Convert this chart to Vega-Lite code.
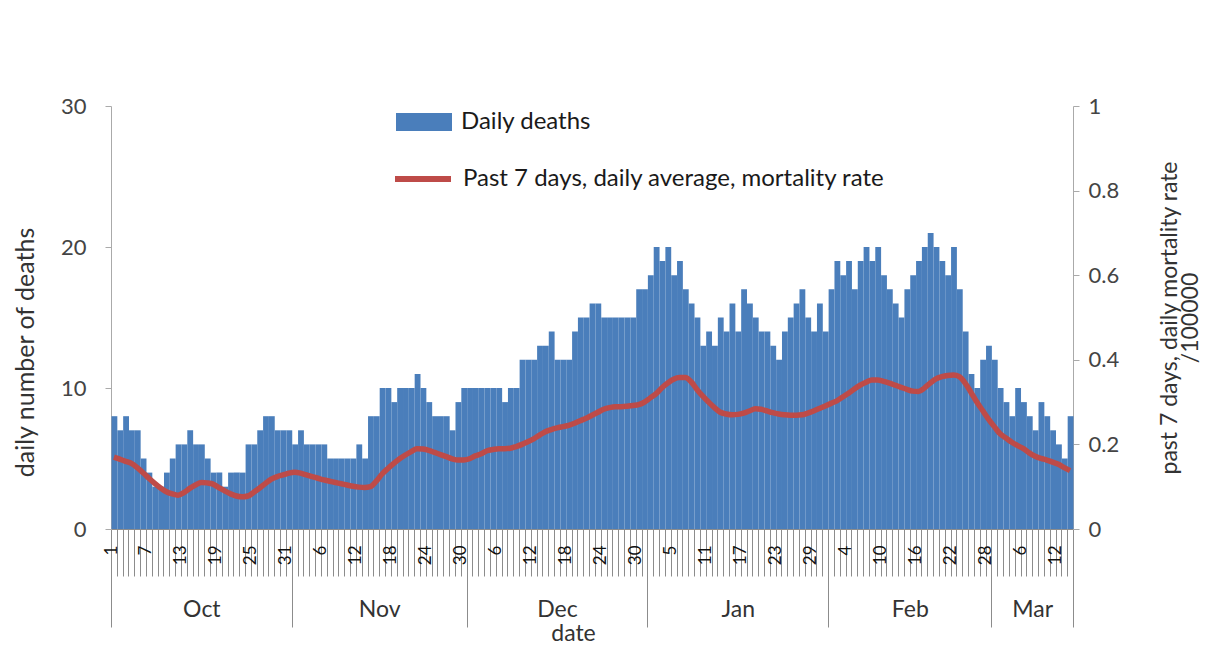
{
  "$schema": "https://vega.github.io/schema/vega-lite/v6.json",
  "width": 962,
  "height": 423,
  "autosize": {"type": "none"},
  "padding": {"left": 111, "top": 106, "right": 133, "bottom": 117},
  "background": "white",
  "config": {"font": "Lato", "view": {"stroke": null}},
  "data": {"values": [
    {"date":"2020-10-01","deaths":8,"rate":0.17},{"date":"2020-10-02","deaths":7,"rate":0.165},{"date":"2020-10-03","deaths":8,"rate":0.16},{"date":"2020-10-04","deaths":7,"rate":0.155},{"date":"2020-10-05","deaths":7,"rate":0.145},{"date":"2020-10-06","deaths":5,"rate":0.133},{"date":"2020-10-07","deaths":4,"rate":0.12},{"date":"2020-10-08","deaths":3,"rate":0.108},{"date":"2020-10-09","deaths":3,"rate":0.097},{"date":"2020-10-10","deaths":4,"rate":0.088},{"date":"2020-10-11","deaths":5,"rate":0.083},{"date":"2020-10-12","deaths":6,"rate":0.08},{"date":"2020-10-13","deaths":6,"rate":0.086},{"date":"2020-10-14","deaths":7,"rate":0.096},{"date":"2020-10-15","deaths":6,"rate":0.104},{"date":"2020-10-16","deaths":6,"rate":0.11},{"date":"2020-10-17","deaths":5,"rate":0.109},{"date":"2020-10-18","deaths":4,"rate":0.106},{"date":"2020-10-19","deaths":4,"rate":0.098},{"date":"2020-10-20","deaths":3,"rate":0.09},{"date":"2020-10-21","deaths":4,"rate":0.083},{"date":"2020-10-22","deaths":4,"rate":0.078},{"date":"2020-10-23","deaths":4,"rate":0.076},{"date":"2020-10-24","deaths":6,"rate":0.078},{"date":"2020-10-25","deaths":6,"rate":0.087},{"date":"2020-10-26","deaths":7,"rate":0.097},{"date":"2020-10-27","deaths":8,"rate":0.108},{"date":"2020-10-28","deaths":8,"rate":0.118},{"date":"2020-10-29","deaths":7,"rate":0.124},{"date":"2020-10-30","deaths":7,"rate":0.128},{"date":"2020-10-31","deaths":7,"rate":0.132},
    {"date":"2020-11-01","deaths":6,"rate":0.134},{"date":"2020-11-02","deaths":7,"rate":0.132},{"date":"2020-11-03","deaths":6,"rate":0.128},{"date":"2020-11-04","deaths":6,"rate":0.124},{"date":"2020-11-05","deaths":6,"rate":0.12},{"date":"2020-11-06","deaths":6,"rate":0.116},{"date":"2020-11-07","deaths":5,"rate":0.113},{"date":"2020-11-08","deaths":5,"rate":0.11},{"date":"2020-11-09","deaths":5,"rate":0.107},{"date":"2020-11-10","deaths":5,"rate":0.104},{"date":"2020-11-11","deaths":5,"rate":0.101},{"date":"2020-11-12","deaths":6,"rate":0.099},{"date":"2020-11-13","deaths":5,"rate":0.098},{"date":"2020-11-14","deaths":8,"rate":0.1},{"date":"2020-11-15","deaths":8,"rate":0.113},{"date":"2020-11-16","deaths":10,"rate":0.13},{"date":"2020-11-17","deaths":10,"rate":0.143},{"date":"2020-11-18","deaths":9,"rate":0.155},{"date":"2020-11-19","deaths":10,"rate":0.166},{"date":"2020-11-20","deaths":10,"rate":0.175},{"date":"2020-11-21","deaths":10,"rate":0.183},{"date":"2020-11-22","deaths":11,"rate":0.19},{"date":"2020-11-23","deaths":10,"rate":0.189},{"date":"2020-11-24","deaths":9,"rate":0.186},{"date":"2020-11-25","deaths":8,"rate":0.181},{"date":"2020-11-26","deaths":8,"rate":0.176},{"date":"2020-11-27","deaths":8,"rate":0.171},{"date":"2020-11-28","deaths":7,"rate":0.166},{"date":"2020-11-29","deaths":9,"rate":0.163},{"date":"2020-11-30","deaths":10,"rate":0.163},
    {"date":"2020-12-01","deaths":10,"rate":0.166},{"date":"2020-12-02","deaths":10,"rate":0.173},{"date":"2020-12-03","deaths":10,"rate":0.178},{"date":"2020-12-04","deaths":10,"rate":0.185},{"date":"2020-12-05","deaths":10,"rate":0.188},{"date":"2020-12-06","deaths":10,"rate":0.19},{"date":"2020-12-07","deaths":9,"rate":0.19},{"date":"2020-12-08","deaths":10,"rate":0.191},{"date":"2020-12-09","deaths":10,"rate":0.195},{"date":"2020-12-10","deaths":12,"rate":0.2},{"date":"2020-12-11","deaths":12,"rate":0.206},{"date":"2020-12-12","deaths":12,"rate":0.213},{"date":"2020-12-13","deaths":13,"rate":0.222},{"date":"2020-12-14","deaths":13,"rate":0.23},{"date":"2020-12-15","deaths":14,"rate":0.235},{"date":"2020-12-16","deaths":12,"rate":0.239},{"date":"2020-12-17","deaths":12,"rate":0.242},{"date":"2020-12-18","deaths":12,"rate":0.245},{"date":"2020-12-19","deaths":14,"rate":0.25},{"date":"2020-12-20","deaths":15,"rate":0.256},{"date":"2020-12-21","deaths":15,"rate":0.262},{"date":"2020-12-22","deaths":16,"rate":0.269},{"date":"2020-12-23","deaths":16,"rate":0.276},{"date":"2020-12-24","deaths":15,"rate":0.283},{"date":"2020-12-25","deaths":15,"rate":0.287},{"date":"2020-12-26","deaths":15,"rate":0.289},{"date":"2020-12-27","deaths":15,"rate":0.289},{"date":"2020-12-28","deaths":15,"rate":0.29},{"date":"2020-12-29","deaths":15,"rate":0.292},{"date":"2020-12-30","deaths":17,"rate":0.294},{"date":"2020-12-31","deaths":17,"rate":0.3},
    {"date":"2021-01-01","deaths":18,"rate":0.31},{"date":"2021-01-02","deaths":20,"rate":0.32},{"date":"2021-01-03","deaths":19,"rate":0.334},{"date":"2021-01-04","deaths":20,"rate":0.345},{"date":"2021-01-05","deaths":18,"rate":0.354},{"date":"2021-01-06","deaths":19,"rate":0.358},{"date":"2021-01-07","deaths":17,"rate":0.358},{"date":"2021-01-08","deaths":16,"rate":0.348},{"date":"2021-01-09","deaths":15,"rate":0.33},{"date":"2021-01-10","deaths":13,"rate":0.314},{"date":"2021-01-11","deaths":14,"rate":0.3},{"date":"2021-01-12","deaths":13,"rate":0.287},{"date":"2021-01-13","deaths":15,"rate":0.276},{"date":"2021-01-14","deaths":14,"rate":0.272},{"date":"2021-01-15","deaths":16,"rate":0.27},{"date":"2021-01-16","deaths":14,"rate":0.271},{"date":"2021-01-17","deaths":17,"rate":0.274},{"date":"2021-01-18","deaths":16,"rate":0.279},{"date":"2021-01-19","deaths":15,"rate":0.284},{"date":"2021-01-20","deaths":14,"rate":0.283},{"date":"2021-01-21","deaths":14,"rate":0.279},{"date":"2021-01-22","deaths":13,"rate":0.275},{"date":"2021-01-23","deaths":12,"rate":0.272},{"date":"2021-01-24","deaths":14,"rate":0.27},{"date":"2021-01-25","deaths":15,"rate":0.269},{"date":"2021-01-26","deaths":16,"rate":0.269},{"date":"2021-01-27","deaths":17,"rate":0.27},{"date":"2021-01-28","deaths":15,"rate":0.274},{"date":"2021-01-29","deaths":14,"rate":0.279},{"date":"2021-01-30","deaths":16,"rate":0.285},{"date":"2021-01-31","deaths":14,"rate":0.291},
    {"date":"2021-02-01","deaths":17,"rate":0.297},{"date":"2021-02-02","deaths":19,"rate":0.303},{"date":"2021-02-03","deaths":18,"rate":0.312},{"date":"2021-02-04","deaths":19,"rate":0.321},{"date":"2021-02-05","deaths":17,"rate":0.331},{"date":"2021-02-06","deaths":19,"rate":0.34},{"date":"2021-02-07","deaths":20,"rate":0.347},{"date":"2021-02-08","deaths":19,"rate":0.352},{"date":"2021-02-09","deaths":20,"rate":0.352},{"date":"2021-02-10","deaths":18,"rate":0.349},{"date":"2021-02-11","deaths":17,"rate":0.345},{"date":"2021-02-12","deaths":16,"rate":0.34},{"date":"2021-02-13","deaths":15,"rate":0.335},{"date":"2021-02-14","deaths":17,"rate":0.33},{"date":"2021-02-15","deaths":18,"rate":0.326},{"date":"2021-02-16","deaths":19,"rate":0.325},{"date":"2021-02-17","deaths":20,"rate":0.333},{"date":"2021-02-18","deaths":21,"rate":0.345},{"date":"2021-02-19","deaths":20,"rate":0.355},{"date":"2021-02-20","deaths":19,"rate":0.36},{"date":"2021-02-21","deaths":18,"rate":0.363},{"date":"2021-02-22","deaths":20,"rate":0.364},{"date":"2021-02-23","deaths":17,"rate":0.36},{"date":"2021-02-24","deaths":14,"rate":0.345},{"date":"2021-02-25","deaths":11,"rate":0.323},{"date":"2021-02-26","deaths":10,"rate":0.3},{"date":"2021-02-27","deaths":12,"rate":0.28},{"date":"2021-02-28","deaths":13,"rate":0.26},
    {"date":"2021-03-01","deaths":12,"rate":0.242},{"date":"2021-03-02","deaths":10,"rate":0.225},{"date":"2021-03-03","deaths":9,"rate":0.215},{"date":"2021-03-04","deaths":8,"rate":0.205},{"date":"2021-03-05","deaths":10,"rate":0.197},{"date":"2021-03-06","deaths":9,"rate":0.19},{"date":"2021-03-07","deaths":8,"rate":0.18},{"date":"2021-03-08","deaths":7,"rate":0.172},{"date":"2021-03-09","deaths":9,"rate":0.167},{"date":"2021-03-10","deaths":8,"rate":0.163},{"date":"2021-03-11","deaths":7,"rate":0.158},{"date":"2021-03-12","deaths":6,"rate":0.153},{"date":"2021-03-13","deaths":5,"rate":0.145},{"date":"2021-03-14","deaths":8,"rate":0.138}
  ]},
  "layer": [
    {
      "mark": {"type": "bar", "binSpacing": 0},
      "encoding": {
        "x": {
          "field": "date", "type": "temporal", "timeUnit": "utcyearmonthdate",
          "scale": {"domain": [{"year": 2020, "month": 10, "date": 1, "utc": true}, {"year": 2021, "month": 3, "date": 15, "utc": true}], "nice": false},
          "axis": {
            "orient": "bottom", "title": null, "grid": false,
            "tickCount": {"interval": "day", "step": 1},
            "tickSize": {"condition": {"test": "utcdate(datum.value) == 1 || (utcmonth(datum.value) == 2 && utcdate(datum.value) == 15)", "value": 98}, "value": 47},
            "tickColor": "#8c8c8c", "tickWidth": 1,
            "domainColor": "#8c8c8c",
            "labelExpr": "(round((datum.value - utc(2020,9,1))/86400000) % 6 == 0) ? utcFormat(datum.value, '%-d') : ''",
            "labelAngle": -90, "labelAlign": "right", "labelBaseline": "middle",
            "labelPadding": {"condition": {"test": "utcdate(datum.value) == 1", "value": -82}, "value": -31},
            "labelFontSize": 17, "labelColor": "#111",
            "labelOverlap": false, "labelFlush": false, "labelBound": false
          }
        },
        "y": {
          "field": "deaths", "type": "quantitative",
          "scale": {"domain": [0, 30], "nice": false},
          "axis": {
            "orient": "left", "values": [0, 10, 20, 30], "grid": false,
            "title": "daily number of deaths", "titleFontSize": 25, "titleFontWeight": "normal", "titleColor": "#333", "titlePadding": 22, "titleY": 246,
            "labelFontSize": 22, "labelColor": "#444", "labelPadding": 19,
            "tickSize": 6, "tickColor": "#aaa", "domainColor": "#aaa"
          }
        },
        "fill": {
          "datum": "Daily deaths",
          "scale": {"range": ["#4a7ebb"]},
          "legend": {
            "orient": "none", "legendX": 285, "legendY": -12, "title": null,
            "symbolType": "M-1,-0.32L1,-0.32L1,0.32L-1,0.32Z", "symbolSize": 3136, "symbolStrokeWidth": 0,
            "labelFontSize": 24, "labelColor": "#1a1a1a", "labelLimit": 1000, "labelOffset": 9
          }
        }
      }
    },
    {
      "mark": {"type": "line", "strokeWidth": 5.5, "interpolate": "monotone"},
      "encoding": {
        "x": {
          "field": "date", "type": "temporal", "timeUnit": "utcyearmonthdate", "bandPosition": 0.5,
          "axis": {
            "orient": "bottom", "grid": false, "ticks": false, "tickSize": 0, "domain": false,
            "values": [
              {"year": 2020, "month": 10, "date": 16, "hours": 12, "utc": true},
              {"year": 2020, "month": 11, "date": 16, "utc": true},
              {"year": 2020, "month": 12, "date": 16, "hours": 12, "utc": true},
              {"year": 2021, "month": 1, "date": 16, "hours": 12, "utc": true},
              {"year": 2021, "month": 2, "date": 15, "utc": true},
              {"year": 2021, "month": 3, "date": 8, "utc": true}
            ],
            "labelExpr": "utcFormat(datum.value, '%b')",
            "labelAngle": 0, "labelAlign": "center", "labelBaseline": "top",
            "labelPadding": 69, "labelFontSize": 23, "labelColor": "#333",
            "labelOverlap": false, "labelFlush": false,
            "title": "date", "titleFontSize": 23, "titleFontWeight": "normal", "titleColor": "#333", "titlePadding": 1, "titleX": 462
          }
        },
        "y": {
          "field": "rate", "type": "quantitative",
          "scale": {"domain": [0, 1], "nice": false},
          "axis": {
            "orient": "right", "values": [0, 0.2, 0.4, 0.6, 0.8, 1], "format": "~g", "grid": false,
            "title": ["past 7 days, daily mortality rate", "/100000"], "titleAngle": -90,
            "titleFont": "Liberation Sans Narrow, Lato", "titleFontSize": 23, "titleLineHeight": 21, "titleFontWeight": "normal", "titleColor": "#333", "titlePadding": 42,
            "labelFontSize": 22, "labelColor": "#444", "labelPadding": 9,
            "tickSize": 6, "tickColor": "#aaa", "domainColor": "#aaa"
          }
        },
        "stroke": {
          "datum": "Past 7 days, daily average, mortality rate",
          "scale": {"range": ["#be4b48"]},
          "legend": {
            "orient": "none", "legendX": 281, "legendY": 42, "title": null,
            "symbolType": "stroke", "symbolSize": 3136, "symbolStrokeWidth": 6,
            "labelFontSize": 24, "labelColor": "#1a1a1a", "labelLimit": 1000, "labelOffset": 9
          }
        }
      }
    }
  ],
  "resolve": {
    "scale": {"y": "independent", "fill": "independent", "stroke": "independent"},
    "axis": {"x": "independent", "y": "independent"}
  }
}
